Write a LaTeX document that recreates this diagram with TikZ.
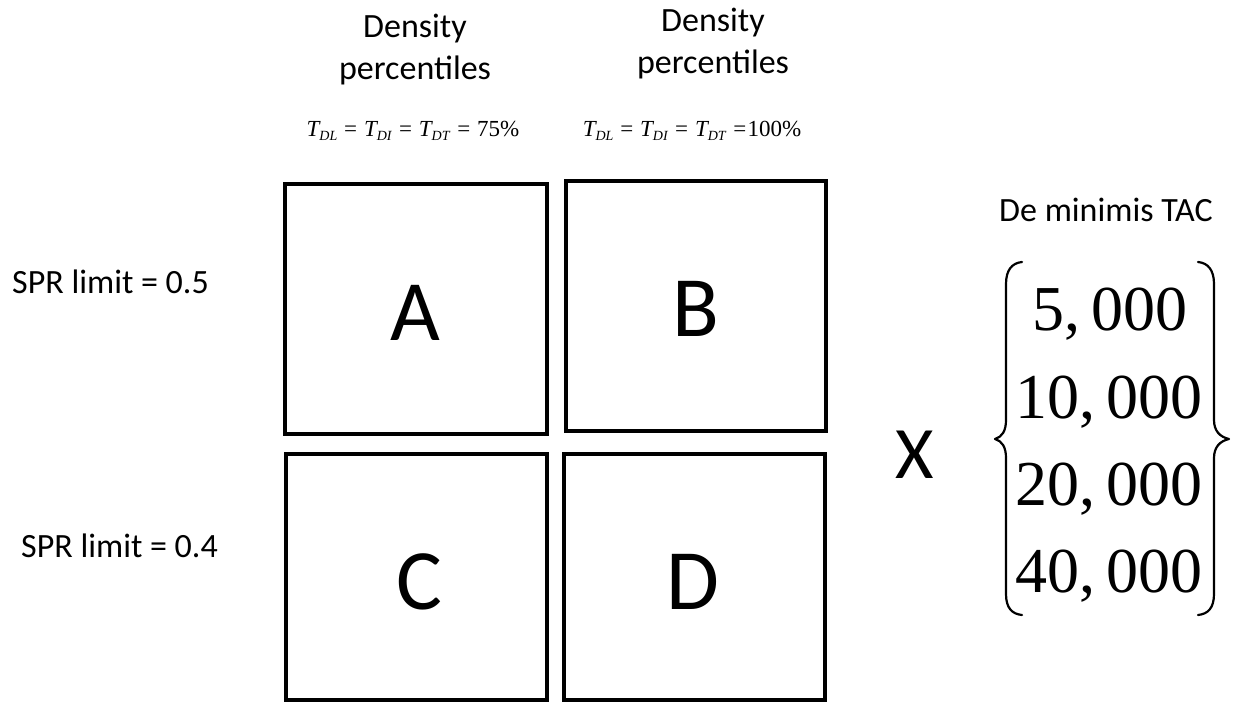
\documentclass[tikz,border=0pt]{standalone}
\usepackage{fontspec}
\setmainfont{Carlito}
\newfontfamily\timesf{Liberation Serif}
\newcommand{\Tsb}[1]{\textit{T}\kern-0.06em\raisebox{-0.32ex}{\fontsize{14bp}{14bp}\selectfont\textit{#1}}}
\newcommand{\eqsp}{\kern0.3em=\kern0.3em}
\begin{document}
\begin{tikzpicture}[x=1bp,y=-1bp,
  cellbox/.style={draw, line width=4bp, inner sep=0pt, outer sep=0pt},
  bigletter/.style={font=\fontsize{86bp}{90bp}\selectfont, inner sep=0pt},
  label/.style={font=\fontsize{34bp}{42bp}\selectfont, inner sep=0pt},
  formula/.style={font=\timesf\fontsize{23bp}{26bp}\selectfont, inner sep=0pt},
  numtxt/.style={font=\timesf\fontsize{64bp}{70bp}\selectfont, inner sep=0pt},
  braceline/.style={line width=2.2bp, line cap=round, line join=round}
]
\useasboundingbox (0,0) rectangle (1239,702);
% boxes
\node[cellbox, minimum width=262bp, minimum height=250bp] (A) at (416,309) {};
\node[cellbox, minimum width=260bp, minimum height=250bp] (B) at (696,306) {};
\node[cellbox, minimum width=261bp, minimum height=246bp] (C) at (416,577) {};
\node[cellbox, minimum width=261bp, minimum height=246bp] (D) at (694.5,577) {};
% letters
\node[bigletter] (la) at (415,313) {A};
\node[bigletter] (lb) at (696,309) {B};
\node[bigletter] (lc) at (419,582) {C};
\node[bigletter] (ld) at (693,582) {D};
% headers
\node[label, anchor=base] (h1a) at (415,38) {Density};
\node[label, anchor=base] (h1b) at (415,80) {percentiles};
\node[label, anchor=base] (h2a) at (713,32) {Density};
\node[label, anchor=base] (h2b) at (713,74) {percentiles};
\node[formula, anchor=base] (f1) at (413,137) {\Tsb{DL}\eqsp\Tsb{DI}\eqsp\Tsb{DT}\eqsp75\%};
\node[formula, anchor=base] (f2) at (692,137) {\Tsb{DL}\eqsp\Tsb{DI}\eqsp\Tsb{DT}\kern0.3em=\kern0.05em100\%};
% row labels
\node[label, anchor=base west] (s1) at (12,293) {SPR limit = 0.5};
\node[label, anchor=base west] (s2) at (21,557) {SPR limit = 0.4};
% right side
\node[label, anchor=base] (tac) at (1106,222) {De minimis TAC};
\node[font=\fontsize{74bp}{80bp}\selectfont, inner sep=0pt] (x) at (915,455) {X};
\node[numtxt, anchor=base] (n1) at (1110,330) {5,\kern0.167em000};
\node[numtxt, anchor=base] (n2) at (1109,418) {10,\kern0.167em000};
\node[numtxt, anchor=base] (n3) at (1109,505) {20,\kern0.167em000};
\node[numtxt, anchor=base] (n4) at (1109,592) {40,\kern0.167em000};
% braces
\draw[braceline] (1022,262) .. controls (1012,263) and (1006,270) .. (1006,284)
  -- (1006,420) .. controls (1006,431) and (1002,437) .. (995,439)
  .. controls (1002,441) and (1006,447) .. (1006,458)
  -- (1006,594) .. controls (1006,608) and (1012,614) .. (1022,615);
\draw[braceline] (1198,262) .. controls (1208,263) and (1214,270) .. (1214,284)
  -- (1214,420) .. controls (1214,431) and (1220,437) .. (1229,439)
  .. controls (1220,441) and (1214,447) .. (1214,458)
  -- (1214,594) .. controls (1214,608) and (1208,614) .. (1198,615);
\end{tikzpicture}
\end{document}
